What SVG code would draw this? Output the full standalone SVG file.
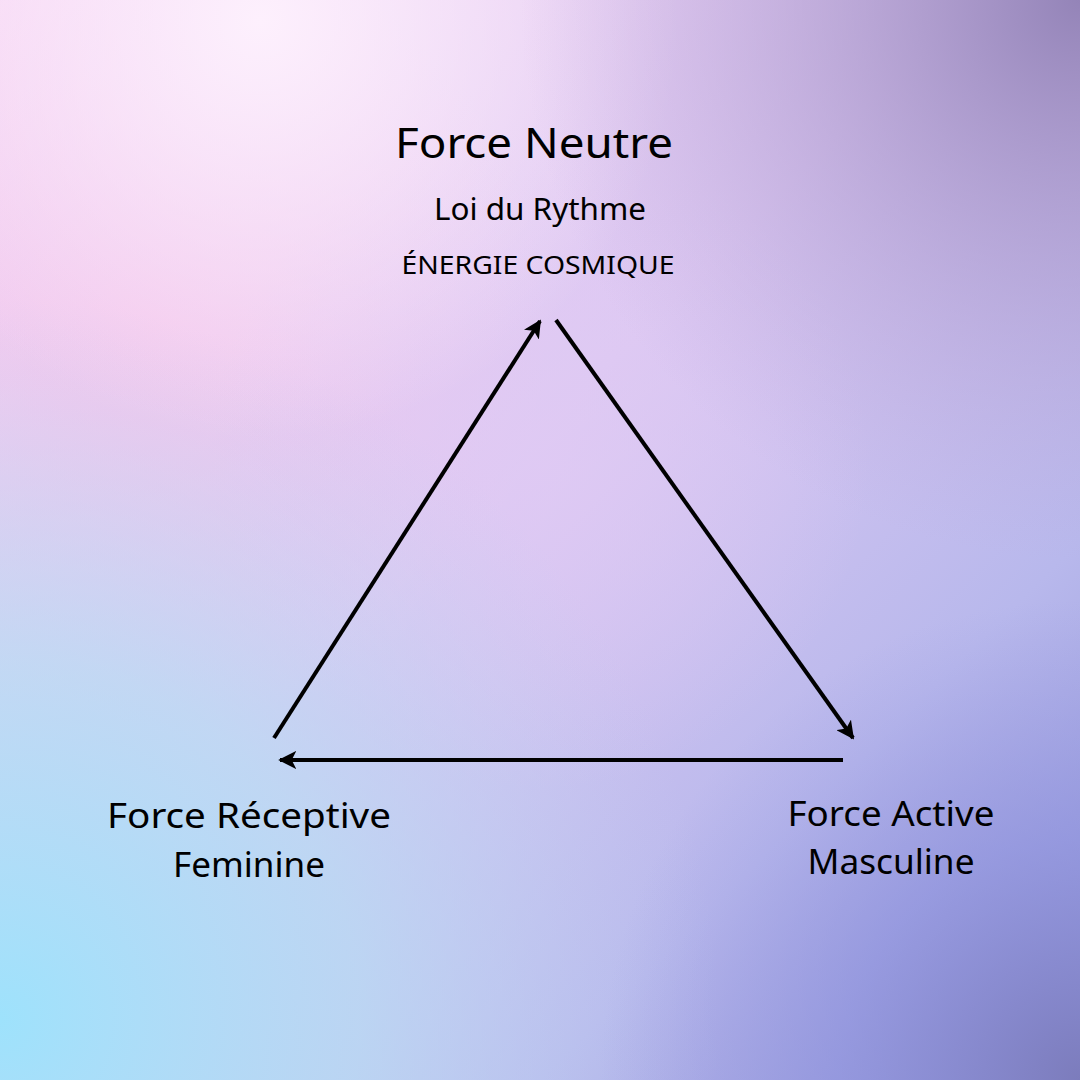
<svg xmlns="http://www.w3.org/2000/svg" width="1080" height="1080" viewBox="0 0 1080 1080">
<defs>
<linearGradient id="base" x1="0" y1="0" x2="1" y2="1">
<stop offset="0" stop-color="#f6d6f4"/>
<stop offset="0.45" stop-color="#dcc8f2"/>
<stop offset="0.75" stop-color="#b8b8ec"/>
<stop offset="1" stop-color="#9094d8"/>
</linearGradient>
<radialGradient id="tl" cx="260" cy="20" r="420" gradientUnits="userSpaceOnUse">
<stop offset="0" stop-color="#fdf0fd" stop-opacity="1"/>
<stop offset="1" stop-color="#fdf0fd" stop-opacity="0"/>
</radialGradient>
<radialGradient id="lp" cx="150" cy="330" r="400" gradientUnits="userSpaceOnUse">
<stop offset="0" stop-color="#f4c6ec" stop-opacity="0.9"/>
<stop offset="1" stop-color="#f4c6ec" stop-opacity="0"/>
</radialGradient>
<radialGradient id="bl" cx="0" cy="1020" r="720" gradientUnits="userSpaceOnUse">
<stop offset="0" stop-color="#9ee2fc" stop-opacity="1"/>
<stop offset="0.5" stop-color="#b8dcf4" stop-opacity="0.75"/>
<stop offset="1" stop-color="#c4d0f2" stop-opacity="0"/>
</radialGradient>
<radialGradient id="tr" cx="1080" cy="0" r="560" gradientUnits="userSpaceOnUse">
<stop offset="0" stop-color="#9484b8" stop-opacity="1"/>
<stop offset="1" stop-color="#b8a4d8" stop-opacity="0"/>
</radialGradient>
<radialGradient id="br" cx="1080" cy="1080" r="480" gradientUnits="userSpaceOnUse">
<stop offset="0" stop-color="#7c7cbc" stop-opacity="1"/>
<stop offset="0.5" stop-color="#8c90dc" stop-opacity="0.6"/>
<stop offset="1" stop-color="#9898e0" stop-opacity="0"/>
</radialGradient>
<radialGradient id="mid" cx="540" cy="460" r="330" gradientUnits="userSpaceOnUse">
<stop offset="0" stop-color="#e0caf4" stop-opacity="0.8"/>
<stop offset="1" stop-color="#e0caf4" stop-opacity="0"/>
</radialGradient>
<marker id="ah" viewBox="0 0 10 10" refX="9" refY="5" markerWidth="4.5" markerHeight="4.5" orient="auto" markerUnits="strokeWidth">
<path d="M0,0 L10,5 L0,10 L2.5,5 Z" fill="#000"/>
</marker>
<style>
.t{font-family:"Noto Sans","Liberation Sans",sans-serif;fill:#000;text-anchor:middle}
.c{stroke:#000;stroke-width:4;fill:none;marker-end:url(#ah)}
</style>
</defs>
<g id="background">
<rect width="1080" height="1080" fill="url(#base)"/>
<rect width="1080" height="1080" fill="url(#lp)"/>
<rect width="1080" height="1080" fill="url(#mid)"/>
<rect width="1080" height="1080" fill="url(#tl)"/>
<rect width="1080" height="1080" fill="url(#bl)"/>
<rect width="1080" height="1080" fill="url(#tr)"/>
<rect width="1080" height="1080" fill="url(#br)"/>
</g>
<g id="connectors">
<line class="c" x1="274" y1="738" x2="540" y2="321"/>
<line class="c" x1="556" y1="320" x2="853" y2="738"/>
<line class="c" x1="843" y1="760" x2="280" y2="760"/>
</g>
<g id="node-neutre">
<text class="t" x="534" y="158" font-size="42" textLength="278" lengthAdjust="spacingAndGlyphs">Force Neutre</text>
<text class="t" x="540" y="220" font-size="31" textLength="212" lengthAdjust="spacingAndGlyphs">Loi du Rythme</text>
<text class="t" x="538" y="274" font-size="25" textLength="273" lengthAdjust="spacingAndGlyphs">ÉNERGIE COSMIQUE</text>
</g>
<g id="node-receptive">
<text class="t" x="249" y="828" font-size="35" textLength="284" lengthAdjust="spacingAndGlyphs">Force Réceptive</text>
<text class="t" x="249" y="877" font-size="35" textLength="152" lengthAdjust="spacingAndGlyphs">Feminine</text>
</g>
<g id="node-active">
<text class="t" x="891" y="826" font-size="35" textLength="207" lengthAdjust="spacingAndGlyphs">Force Active</text>
<text class="t" x="891" y="874" font-size="35" textLength="167" lengthAdjust="spacingAndGlyphs">Masculine</text>
</g>
</svg>
